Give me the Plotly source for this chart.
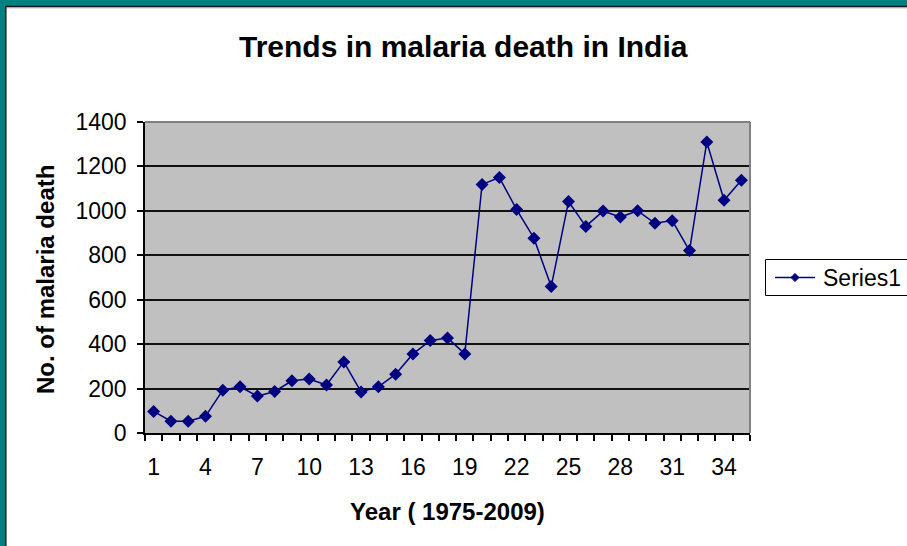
import plotly.graph_objects as go

# Malaria deaths in India, 1975-2009 (year index 1 = 1975)
year_index = list(range(1, 36))
malaria_deaths = [97, 53, 53, 75, 193, 208, 166, 187, 235, 243, 216, 320, 185, 208, 265, 356, 416, 428, 356,
                  1119, 1150, 1006, 877, 659, 1042, 930, 999, 972, 1000, 944, 956, 821, 1310, 1048, 1138]
x_tick_labels = list(range(1, 36, 3))
y_ticks = list(range(0, 1401, 200))
series_name = "Series1"

W, H = 907, 546
L, R, T, B = 145, 157, 122, 113
PW, PH = W - L - R, H - T - B

FONT = "Liberation Sans, Arial, sans-serif"
NAVY = "#000080"
TEAL = "#008080"


def px_x(px):
    return (px - L) / PW


def px_y(py):
    return 1 - (py - T) / PH


fig = go.Figure()
fig.add_trace(go.Scatter(
    x=year_index, y=malaria_deaths, mode="lines+markers", name=series_name,
    line=dict(color=NAVY, width=1.5),
    marker=dict(symbol="diamond", size=10, color=NAVY),
    cliponaxis=False, showlegend=False,
))

shapes = []
# outer window frame (teal band with dark edge, top and left)
shapes.append(dict(type="rect", xref="paper", yref="paper", x0=px_x(0), x1=px_x(W), y0=px_y(0), y1=px_y(6),
                   fillcolor=TEAL, line=dict(width=0), layer="above"))
shapes.append(dict(type="rect", xref="paper", yref="paper", x0=px_x(0), x1=px_x(5), y0=px_y(0), y1=px_y(H),
                   fillcolor=TEAL, line=dict(width=0), layer="above"))
shapes.append(dict(type="line", xref="paper", yref="paper", x0=px_x(5), x1=px_x(W), y0=px_y(6.5), y1=px_y(6.5),
                   line=dict(color="#1a1a1a", width=1.5), layer="above"))
shapes.append(dict(type="line", xref="paper", yref="paper", x0=px_x(6), x1=px_x(W), y0=px_y(7.8), y1=px_y(7.8),
                   line=dict(color="#a0a0a0", width=1), layer="above"))
shapes.append(dict(type="line", xref="paper", yref="paper", x0=px_x(5.8), x1=px_x(5.8), y0=px_y(6), y1=px_y(H),
                   line=dict(color="#1a1a1a", width=1.5), layer="above"))
# plot area top and right border
shapes.append(dict(type="line", xref="paper", yref="paper", x0=0, x1=1, y0=1, y1=1,
                   line=dict(color="#808080", width=2), layer="above"))
shapes.append(dict(type="line", xref="paper", yref="paper", x0=1, x1=1, y0=0, y1=1,
                   line=dict(color="#808080", width=2), layer="above"))

# legend box and key
lg_l, lg_t, lg_b = 765.5, 259.5, 295.5
lg_y = (lg_t + lg_b) / 2
shapes.append(dict(type="rect", xref="paper", yref="paper", x0=px_x(lg_l), x1=px_x(W + 10),
                   y0=px_y(lg_t), y1=px_y(lg_b), line=dict(color="black", width=1), fillcolor="white",
                   layer="above"))
shapes.append(dict(type="line", xref="paper", yref="paper", x0=px_x(775), x1=px_x(815),
                   y0=px_y(lg_y), y1=px_y(lg_y), line=dict(color=NAVY, width=1.5), layer="above"))
cx, cy, d = 795, lg_y, 4
shapes.append(dict(type="path", xref="paper", yref="paper",
                   path=(f"M {px_x(cx - d)} {px_y(cy)} L {px_x(cx)} {px_y(cy - d)} "
                         f"L {px_x(cx + d)} {px_y(cy)} L {px_x(cx)} {px_y(cy + d)} Z"),
                   fillcolor=NAVY, line=dict(color=NAVY, width=1), layer="above"))

annotations = [
    dict(text="<b>Trends in malaria death in India</b>", xref="paper", yref="paper",
         x=px_x(463), y=px_y(47), xanchor="center", yanchor="middle", showarrow=False,
         font=dict(family=FONT, size=30, color="black")),
    dict(text="<b>Year ( 1975-2009)</b>", xref="paper", yref="paper",
         x=0.5, y=px_y(512), xanchor="center", yanchor="middle", showarrow=False,
         font=dict(family=FONT, size=24, color="black")),
    dict(text="<b>No. of malaria death</b>", xref="paper", yref="paper",
         x=px_x(45), y=px_y(280), xanchor="center", yanchor="middle", showarrow=False, textangle=-90,
         font=dict(family=FONT, size=24, color="black")),
    dict(text=series_name, xref="paper", yref="paper",
         x=px_x(821), y=px_y(lg_y), xanchor="left", yanchor="middle", showarrow=False,
         font=dict(family=FONT, size=23, color="black")),
]

fig.update_layout(
    width=W, height=H,
    margin=dict(l=L, r=R, t=T, b=B, pad=0, autoexpand=False),
    paper_bgcolor="white", plot_bgcolor="#C0C0C0",
    font=dict(family=FONT, size=23, color="black"),
    showlegend=False,
    shapes=shapes, annotations=annotations,
)
fig.update_xaxes(
    range=[0.5, 35.5], tickvals=x_tick_labels, ticktext=[str(v) for v in x_tick_labels],
    ticks="", showgrid=False, zeroline=False,
    showline=True, linecolor="black", linewidth=1.5,
    tickfont=dict(family=FONT, size=23, color="black"), ticklabelstandoff=13,
    minor=dict(ticks="outside", tickvals=[v - 0.5 for v in year_index + [36]], ticklen=6,
               tickcolor="black", tickwidth=1.5, showgrid=False),
)
fig.update_yaxes(
    range=[0, 1400], tickvals=y_ticks, ticks="outside", ticklen=6, tickcolor="black", tickwidth=1.5,
    showgrid=True, gridcolor="#111111", gridwidth=1.5, zeroline=False,
    showline=True, linecolor="black", linewidth=1.5,
    tickfont=dict(family=FONT, size=23, color="black"), ticklabelstandoff=6,
)

fig.write_html("out.html")
